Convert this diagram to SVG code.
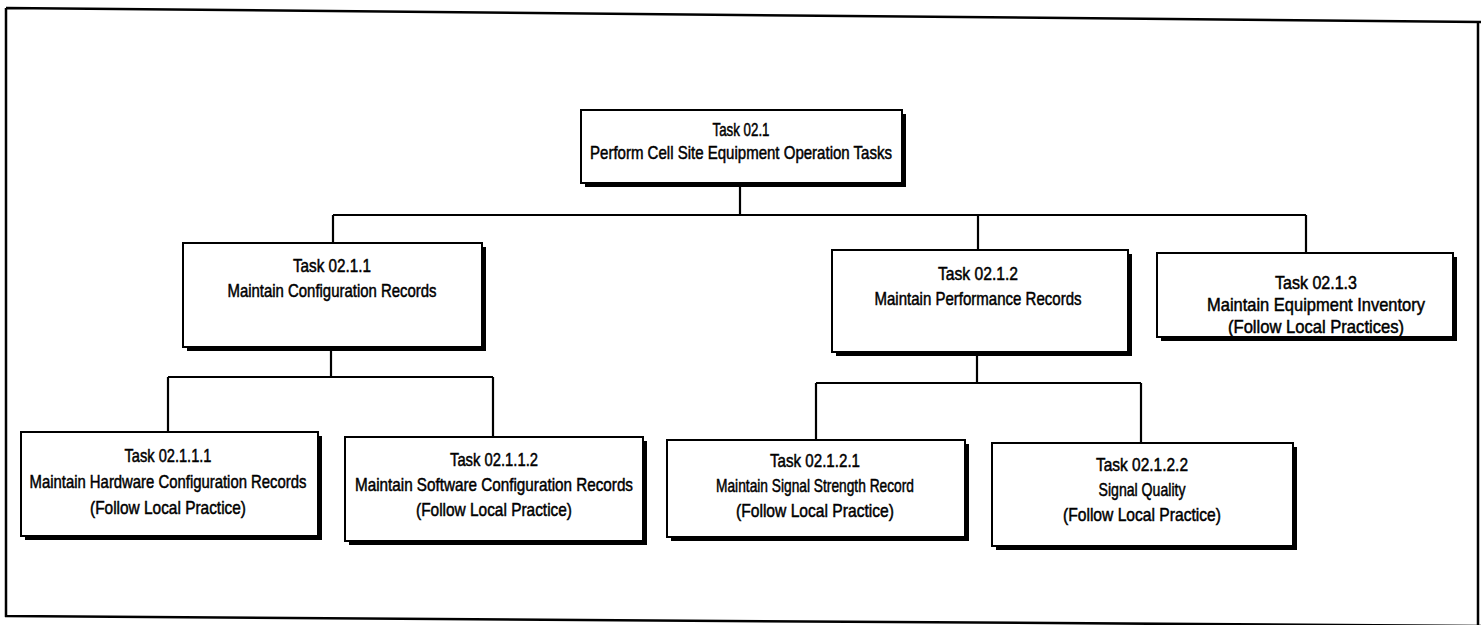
<svg xmlns="http://www.w3.org/2000/svg" width="1481" height="625" viewBox="0 0 1481 625">
<style>
.sh{fill:#000}
.bx{fill:#fff;stroke:#000;stroke-width:2}
.t{font-family:"Liberation Sans",Arial,sans-serif;font-size:18.5px;fill:#000;stroke:#000;stroke-width:0.5;text-anchor:middle}
.c{fill:none;stroke:#000;stroke-width:2.2}
.fr{fill:none;stroke:#000;stroke-width:2.5}
</style>
<rect width="1481" height="625" fill="#fff"/>
<g id="frame">
<path class="fr" d="M6,8 L1481,22 M6,8 L6,617 M5,616 L1481,626 M1478,22 L1478,625"/>
</g>
<g id="connectors">
<path class="c" d="M740,183 V215 M333,215 H1306 M333,215 V243 M978,215 V250 M1306,215 V253"/>
<path class="c" d="M331,347 V377 M168,377 H493 M168,377 V432 M493,377 V437"/>
<path class="c" d="M977,352 V383 M816,383 H1141 M816,383 V440 M1141,383 V443"/>
</g>
<g id="n0">
<rect class="sh" x="585" y="114" width="321" height="73"/>
<rect class="bx" x="581" y="110" width="321" height="73"/>
<text class="t" x="741" y="136" textLength="57" lengthAdjust="spacingAndGlyphs">Task 02.1</text>
<text class="t" x="741" y="159" textLength="302" lengthAdjust="spacingAndGlyphs">Perform Cell Site Equipment Operation Tasks</text>
</g>
<g id="n1">
<rect class="sh" x="187" y="247" width="299" height="104"/>
<rect class="bx" x="183" y="243" width="299" height="104"/>
<text class="t" x="332" y="272" textLength="78" lengthAdjust="spacingAndGlyphs">Task 02.1.1</text>
<text class="t" x="332" y="297" textLength="209" lengthAdjust="spacingAndGlyphs">Maintain Configuration Records</text>
</g>
<g id="n2">
<rect class="sh" x="836" y="254" width="296" height="102"/>
<rect class="bx" x="832" y="250" width="296" height="102"/>
<text class="t" x="978" y="280" textLength="80" lengthAdjust="spacingAndGlyphs">Task 02.1.2</text>
<text class="t" x="978" y="305" textLength="207" lengthAdjust="spacingAndGlyphs">Maintain Performance Records</text>
</g>
<g id="n3">
<rect class="sh" x="1161" y="257" width="296" height="84"/>
<rect class="bx" x="1157" y="253" width="296" height="84"/>
<text class="t" x="1316" y="289" textLength="82" lengthAdjust="spacingAndGlyphs">Task 02.1.3</text>
<text class="t" x="1316" y="311" textLength="218" lengthAdjust="spacingAndGlyphs">Maintain Equipment Inventory</text>
<text class="t" x="1316" y="333" textLength="176" lengthAdjust="spacingAndGlyphs">(Follow Local Practices)</text>
</g>
<g id="n11">
<rect class="sh" x="25" y="436" width="297" height="104"/>
<rect class="bx" x="21" y="432" width="297" height="104"/>
<text class="t" x="168" y="462" textLength="87" lengthAdjust="spacingAndGlyphs">Task 02.1.1.1</text>
<text class="t" x="168" y="488" textLength="277" lengthAdjust="spacingAndGlyphs">Maintain Hardware Configuration Records</text>
<text class="t" x="168" y="514" textLength="156" lengthAdjust="spacingAndGlyphs">(Follow Local Practice)</text>
</g>
<g id="n12">
<rect class="sh" x="349" y="441" width="298" height="104"/>
<rect class="bx" x="345" y="437" width="298" height="104"/>
<text class="t" x="494" y="466" textLength="88" lengthAdjust="spacingAndGlyphs">Task 02.1.1.2</text>
<text class="t" x="494" y="491" textLength="278" lengthAdjust="spacingAndGlyphs">Maintain Software Configuration Records</text>
<text class="t" x="494" y="516" textLength="156" lengthAdjust="spacingAndGlyphs">(Follow Local Practice)</text>
</g>
<g id="n21">
<rect class="sh" x="671" y="444" width="298" height="97"/>
<rect class="bx" x="667" y="440" width="298" height="97"/>
<text class="t" x="815" y="467" textLength="90" lengthAdjust="spacingAndGlyphs">Task 02.1.2.1</text>
<text class="t" x="815" y="492" textLength="198" lengthAdjust="spacingAndGlyphs">Maintain Signal Strength Record</text>
<text class="t" x="815" y="517" textLength="158" lengthAdjust="spacingAndGlyphs">(Follow Local Practice)</text>
</g>
<g id="n22">
<rect class="sh" x="996" y="447" width="301" height="103"/>
<rect class="bx" x="992" y="443" width="301" height="103"/>
<text class="t" x="1142" y="471" textLength="92" lengthAdjust="spacingAndGlyphs">Task 02.1.2.2</text>
<text class="t" x="1142" y="496" textLength="87" lengthAdjust="spacingAndGlyphs">Signal Quality</text>
<text class="t" x="1142" y="521" textLength="158" lengthAdjust="spacingAndGlyphs">(Follow Local Practice)</text>
</g>
</svg>
